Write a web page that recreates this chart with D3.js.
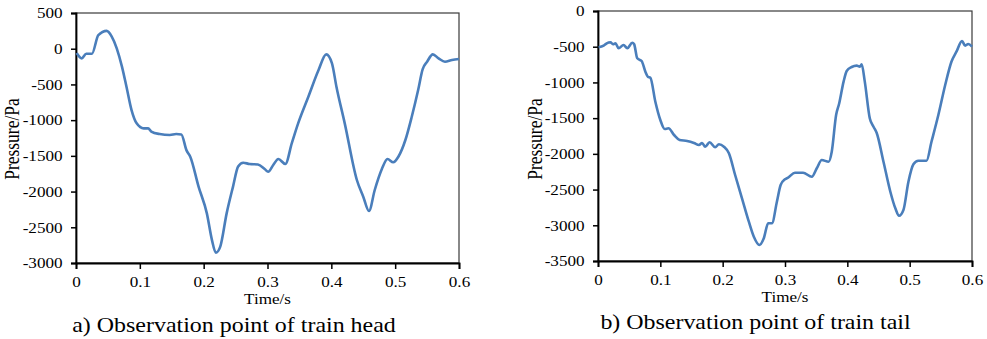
<!DOCTYPE html>
<html>
<head>
<meta charset="utf-8">
<script src="https://cdn.jsdelivr.net/npm/d3@7.9.0/dist/d3.min.js"></script>
</head>
<body style="margin:0; background:#fff">
<svg id="chart" width="987" height="339"></svg>
<script>
// time (s) and pressure (Pa)
const headTime = [0.001, 0.009, 0.016, 0.025, 0.035, 0.048, 0.056, 0.072, 0.079, 0.087, 0.095, 0.106, 0.113, 0.118,
  0.131, 0.147, 0.157, 0.165, 0.173, 0.179, 0.192, 0.205, 0.213, 0.219, 0.226, 0.236, 0.246, 0.254, 0.262,
  0.272, 0.285, 0.296, 0.301, 0.309, 0.317, 0.328, 0.338, 0.348, 0.364, 0.380, 0.392, 0.401, 0.408, 0.421,
  0.440, 0.450, 0.459, 0.468, 0.479, 0.488, 0.497, 0.505, 0.516, 0.526, 0.536, 0.543, 0.550, 0.559, 0.568,
  0.578, 0.589, 0.600];
const headPressure = [-60, -135, -70, -70, 190, 250, 170, -250, -530, -860, -1045, -1115, -1115, -1160,
  -1195, -1208, -1195, -1200, -1420, -1512, -1930, -2305, -2680, -2856, -2770, -2305, -1930, -1650, -1596,
  -1614, -1620, -1688, -1722, -1628, -1544, -1614, -1325, -1045, -672, -298, -79, -205, -532, -1045,
  -1838, -2072, -2272, -1978, -1688, -1544, -1590, -1512, -1278, -952, -578, -288, -182, -79, -135,
  -182, -158, -144];

const tailTime = [0.001, 0.009, 0.014, 0.020, 0.024, 0.028, 0.033, 0.041, 0.047, 0.055, 0.058, 0.063, 0.070,
  0.076, 0.080, 0.084, 0.092, 0.100, 0.107, 0.113, 0.122, 0.131, 0.143, 0.154, 0.162, 0.167, 0.172, 0.179,
  0.188, 0.194, 0.202, 0.210, 0.220, 0.231, 0.242, 0.250, 0.259, 0.266, 0.273, 0.279, 0.287, 0.293, 0.300,
  0.305, 0.316, 0.329, 0.343, 0.351, 0.359, 0.370, 0.375, 0.382, 0.387, 0.394, 0.399, 0.407, 0.415, 0.420,
  0.423, 0.428, 0.436, 0.442, 0.447, 0.458, 0.469, 0.477, 0.483, 0.490, 0.498, 0.506, 0.514, 0.527, 0.535,
  0.546, 0.557, 0.567, 0.575, 0.584, 0.589, 0.594, 0.600];
const tailPressure = [-508, -486, -452, -438, -466, -452, -522, -476, -522, -444, -466, -662, -700,
  -849, -920, -934, -1270, -1526, -1652, -1642, -1736, -1806, -1820, -1848, -1876, -1848, -1900, -1838,
  -1908, -1866, -1900, -1992, -2296, -2622, -2950, -3160, -3276, -3182, -2972, -2972, -2670, -2436, -2356,
  -2333, -2264, -2264, -2320, -2202, -2086, -2110, -1970, -1456, -1292, -989, -840, -784, -765, -780,
  -746, -989, -1502, -1620, -1704, -2110, -2530, -2762, -2866, -2786, -2390, -2146, -2096, -2096, -1830,
  -1456, -1036, -710, -570, -420, -486, -462, -500];

const timeTicks = [0, 0.1, 0.2, 0.3, 0.4, 0.5, 0.6];
const headTicks = [500, 0, -500, -1000, -1500, -2000, -2500, -3000];
const tailTicks = [0, -500, -1000, -1500, -2000, -2500, -3000, -3500];

const serif = '"Liberation Serif"';
const stretch = 1.14; // the source picture is a bit wider than tall

const svg = d3.select('#chart');
svg.append('rect').attr('width', 987).attr('height', 339).attr('fill', '#fff');

const panels = [
  { time: headTime, pressure: headPressure, yTicks: headTicks, yDomain: [-3000, 500],
    x0: 76, x1: 459, y0: 13, y1: 263, yLabelX: 12, timeY: 304,
    caption: 'a) Observation point of train head', capX: 234, capY: 332 },
  { time: tailTime, pressure: tailPressure, yTicks: tailTicks, yDomain: [-3500, 0],
    x0: 598, x1: 972, y0: 11, y1: 261, yLabelX: 535.5, timeY: 302,
    caption: 'b) Observation point of train tail', capX: 755.5, capY: 329 }
];

function label(x, y, size, txt, rotate) {
  svg.append('text')
    .attr('transform', `translate(${x},${y}) scale(${stretch},1)` + (rotate ? ' rotate(-90)' : ''))
    .attr('text-anchor', 'middle')
    .attr('dy', rotate ? '0.35em' : 0)
    .attr('font-family', serif)
    .attr('font-size', size)
    .attr('fill', '#000')
    .text(txt);
}

panels.forEach((p) => {
  const x = d3.scaleLinear().domain([0, 0.6]).range([p.x0, p.x1]);
  const y = d3.scaleLinear().domain(p.yDomain).range([p.y1, p.y0]);

  // frame
  svg.append('rect')
    .attr('x', p.x0).attr('y', p.y0)
    .attr('width', p.x1 - p.x0).attr('height', p.y1 - p.y0)
    .attr('fill', 'none').attr('stroke', '#3a3a3a').attr('stroke-width', 1.2);

  // axes
  const xAxis = svg.append('g')
    .attr('transform', `translate(0,${p.y1})`)
    .call(d3.axisBottom(x).tickValues(timeTicks).tickSize(6).tickPadding(7.5).tickFormat(d3.format('')));
  const yAxis = svg.append('g')
    .attr('transform', `translate(${p.x0},0)`)
    .call(d3.axisLeft(y).tickValues(p.yTicks).tickSize(5).tickPadding(6.8).tickFormat((d) => String(d)));

  [xAxis, yAxis].forEach((g) => {
    g.attr('font-family', serif).attr('font-size', 15);
    g.select('.domain').attr('stroke', '#000').attr('stroke-width', 1.8);
    g.selectAll('.tick line').attr('stroke', '#000').attr('stroke-width', 1.5);
    g.selectAll('.tick text')
      .attr('fill', '#000')
      .attr('font-family', serif)
      .attr('transform', `scale(${stretch},1)`);
  });

  // line
  const data = p.time.map((t, i) => [t, p.pressure[i]]);
  svg.append('path')
    .datum(data)
    .attr('fill', 'none')
    .attr('stroke', '#4a7ebb')
    .attr('stroke-width', 2.6)
    .attr('stroke-linejoin', 'round')
    .attr('d', d3.line().x((d) => x(d[0])).y((d) => y(d[1])).curve(d3.curveMonotoneX));

  // labels
  label((p.x0 + p.x1) / 2, p.timeY, 15, 'Time/s');
  label(p.yLabelX, 139, 17.5, 'Pressure/Pa', true);
  label(p.capX, p.capY, 21, p.caption);
});
</script>
</body>
</html>
